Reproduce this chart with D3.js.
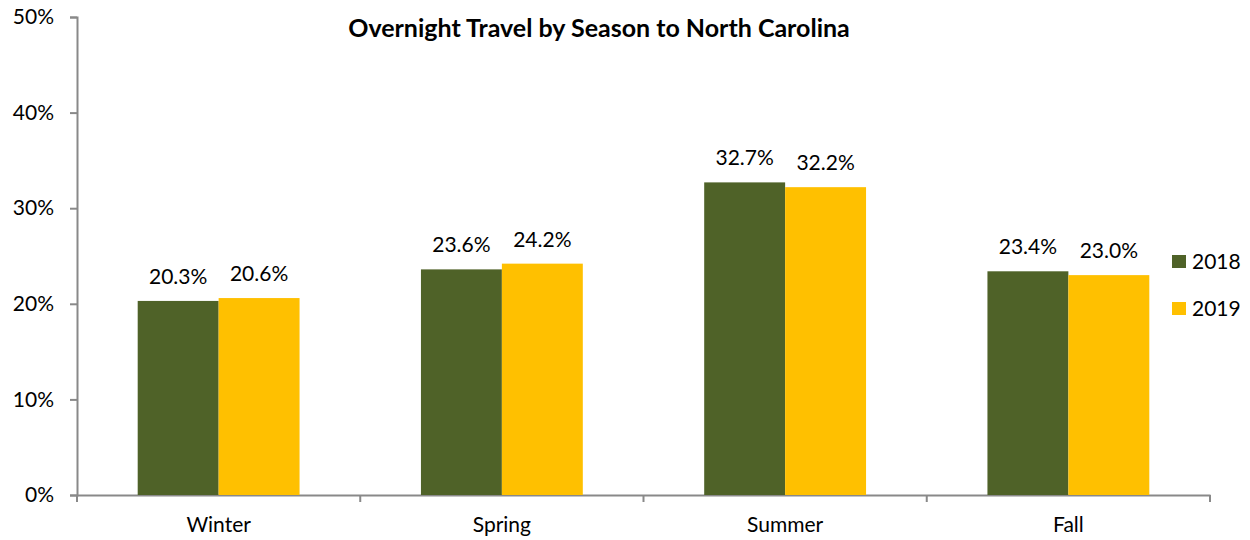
<!DOCTYPE html>
<meta charset="utf-8">
<script src="https://d3js.org/d3.v7.min.js"></script>
<style>
  body { margin: 0; background: #fff; }
  text { font-family: Lato, "Open Sans", sans-serif; fill: #000; }
</style>
<div id="my_dataviz"></div>
<script>

// data
var seasons = ["Winter", "Spring", "Summer", "Fall"];
var years = ["2018", "2019"];
var values2018 = [20.3, 23.6, 32.7, 23.4];
var values2019 = [20.6, 24.2, 32.2, 23.0];
var yTicks = [0, 10, 20, 30, 40, 50];
var colors = ["#4F6228", "#FFC000"];

var margin = {top: 17, right: 40, bottom: 45, left: 77},
    width = 1210 - margin.left,
    height = 495 - margin.top;

var svg = d3.select("#my_dataviz")
  .append("svg")
    .attr("width", 1250)
    .attr("height", 540)
  .append("g")
    .attr("transform", "translate(" + margin.left + "," + margin.top + ")");

// scales
var x = d3.scaleBand()
  .domain(seasons)
  .range([0, width]);

var xSub = d3.scaleBand()
  .domain(years)
  .range([0, x.bandwidth()])
  .paddingInner(0)
  .paddingOuter(0.75);

var y = d3.scaleLinear()
  .domain([0, 50])
  .range([height, 0]);

// y axis
var yAxis = svg.append("g")
  .call(d3.axisLeft(y).tickValues(yTicks).tickFormat(function(d) { return d + "%"; }).tickSize(7).tickPadding(16));
yAxis.selectAll("text").style("font-size", "21px");

// x axis
var xAxis = svg.append("g")
  .attr("transform", "translate(0," + height + ")")
  .call(d3.axisBottom(x).tickSize(0).tickPadding(22));
xAxis.selectAll("text").style("font-size", "21px");
// category boundary ticks
xAxis.selectAll(".boundary")
  .data(d3.range(seasons.length + 1))
  .enter().append("line")
    .attr("class", "boundary")
    .attr("x1", function(i) { return i * x.step(); })
    .attr("x2", function(i) { return i * x.step(); })
    .attr("y1", 0)
    .attr("y2", 7);

svg.selectAll(".domain, .tick line, .boundary")
  .attr("stroke", "#898989")
  .attr("stroke-width", 2);

// bars
var rows = seasons.map(function(s, i) {
  return {season: s, vals: [values2018[i], values2019[i]]};
});

var groups = svg.selectAll(".season")
  .data(rows)
  .enter().append("g")
    .attr("class", "season")
    .attr("transform", function(d) { return "translate(" + x(d.season) + ",0)"; });

groups.selectAll("rect")
  .data(function(d) { return d.vals.map(function(v, j) { return {year: years[j], v: v, c: colors[j]}; }); })
  .enter().append("rect")
    .attr("x", function(d) { return xSub(d.year); })
    .attr("width", xSub.bandwidth())
    .attr("y", function(d) { return y(d.v); })
    .attr("height", function(d) { return height - y(d.v); })
    .attr("fill", function(d) { return d.c; });

groups.selectAll(".lbl")
  .data(function(d) { return d.vals.map(function(v, j) { return {year: years[j], v: v}; }); })
  .enter().append("text")
    .attr("class", "lbl")
    .attr("x", function(d) { return xSub(d.year) + xSub.bandwidth() / 2; })
    .attr("y", function(d) { return y(d.v) - 17; })
    .attr("text-anchor", "middle")
    .style("font-size", "21px")
    .text(function(d) { return d.v.toFixed(1) + "%"; });

// legend
var legend = svg.selectAll(".legend")
  .data(years)
  .enter().append("g")
    .attr("class", "legend")
    .attr("transform", function(d, i) { return "translate(" + (1172 - margin.left) + "," + (255 + i * 47 - margin.top) + ")"; });
legend.append("rect")
  .attr("width", 14).attr("height", 13)
  .attr("fill", function(d, i) { return colors[i]; });
legend.append("text")
  .attr("x", 20).attr("y", 14)
  .style("font-size", "21px")
  .text(function(d) { return d; });

// title
svg.append("text")
  .attr("x", 599 - margin.left)
  .attr("y", 37 - margin.top)
  .attr("text-anchor", "middle")
  .style("font-size", "25px")
  .style("font-weight", "bold")
  .text("Overnight Travel by Season to North Carolina");

</script>
